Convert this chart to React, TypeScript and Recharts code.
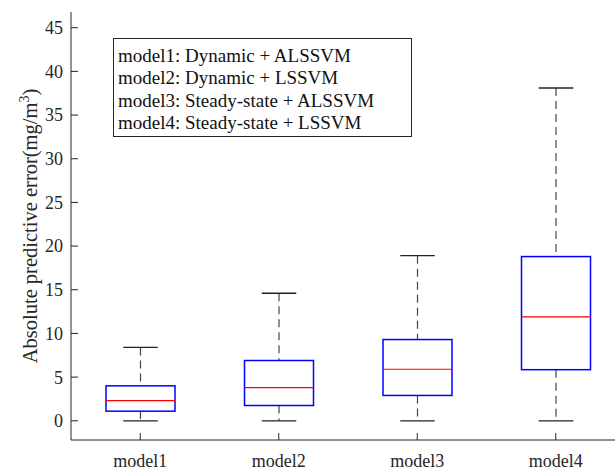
import React from "react";
import { ComposedChart, Bar, XAxis, YAxis } from "recharts";

const models = ["model1", "model2", "model3", "model4"];
const mins = [0, 0, 0, 0];
const q1s = [1.1, 1.75, 2.9, 5.85];
const medians = [2.3, 3.8, 5.9, 11.9];
const q3s = [4.0, 6.9, 9.3, 18.8];
const maxs = [8.4, 14.6, 18.9, 38.1];

const yTicks = [0, 5, 10, 15, 20, 25, 30, 35, 40, 45];

const legendLabels = [
  "model1: Dynamic + ALSSVM",
  "model2: Dynamic + LSSVM",
  "model3: Steady-state + ALSSVM",
  "model4: Steady-state + LSSVM",
];

const data = models.map((name, i) => ({
  name,
  range: [mins[i], maxs[i]],
  q1: q1s[i],
  median: medians[i],
  q3: q3s[i],
}));

const FONT = "'Liberation Serif', 'Times New Roman', serif";
const INK = "#262626";

// box drawn inside the [min, max] bar, other values mapped on the same pixel span
function BoxShape(props: any) {
  const { x, y, width, height, payload } = props;
  const [lo, hi] = payload.range;
  const py = (v: number) => y + (height * (hi - v)) / (hi - lo);
  const cx = x + width / 2;
  const capHalf = width / 4;
  return (
    <g>
      <line x1={cx} x2={cx} y1={py(hi)} y2={py(payload.q3)} stroke="#444" strokeWidth={1.2} strokeDasharray="8 5" />
      <line x1={cx} x2={cx} y1={py(payload.q1)} y2={py(lo)} stroke="#444" strokeWidth={1.2} strokeDasharray="8 5" />
      <line x1={cx - capHalf} x2={cx + capHalf} y1={py(hi)} y2={py(hi)} stroke="#222" strokeWidth={1.3} />
      <line x1={cx - capHalf} x2={cx + capHalf} y1={py(lo)} y2={py(lo)} stroke="#222" strokeWidth={1.3} />
      <rect
        x={x}
        y={py(payload.q3)}
        width={width}
        height={py(payload.q1) - py(payload.q3)}
        fill="none"
        stroke="#0000ff"
        strokeWidth={1.5}
      />
      <line x1={x} x2={x + width} y1={py(payload.median)} y2={py(payload.median)} stroke="#ff0000" strokeWidth={1.2} />
    </g>
  );
}

function YLabel(props: any) {
  const { viewBox } = props;
  const cy = viewBox.y + viewBox.height / 2;
  const tx = 37;
  return (
    <text
      x={tx}
      y={cy}
      transform={`rotate(-90, ${tx}, ${cy})`}
      textAnchor="middle"
      fontFamily={FONT}
      fontSize={20.5}
      fill={INK}
    >
      <tspan>Absolute predictive error(mg/m</tspan>
      <tspan dy={-8} fontSize={14}>3</tspan>
      <tspan dy={8}>)</tspan>
    </text>
  );
}

export default function App() {
  return (
    <div
      style={{
        position: "fixed",
        left: 0,
        top: 0,
        width: 615,
        height: 470,
        overflow: "hidden",
        background: "#fff",
        fontFamily: FONT,
      }}
    >
      <ComposedChart
        width={625}
        height={470}
        data={data}
        margin={{ top: 12, right: 0, bottom: 0, left: 0 }}
      >
        <XAxis
          dataKey="name"
          height={30}
          stroke={INK}
          tickSize={-7}
          tickMargin={21}
          tick={{ fontFamily: FONT, fontSize: 18, fill: INK }}
        />
        <XAxis
          xAxisId="top"
          dataKey="name"
          orientation="top"
          height={0}
          stroke={INK}
          tickSize={-7}
          tick={false}
        />
        <YAxis
          width={71}
          type="number"
          domain={[-2.2, 46.8]}
          ticks={yTicks}
          allowDataOverflow
          stroke={INK}
          tickSize={-7}
          tickMargin={15}
          tick={{ fontFamily: FONT, fontSize: 18, fill: INK }}
          label={<YLabel />}
        />
        <Bar dataKey="range" barSize={69} shape={<BoxShape />} isAnimationActive={false} />
      </ComposedChart>
      <div
        style={{
          position: "absolute",
          left: 113,
          top: 38,
          width: 299,
          height: 99,
          border: `1px solid ${INK}`,
          background: "#fff",
          fontFamily: FONT,
          fontSize: 19,
          lineHeight: "22.3px",
          color: "#111",
          padding: "6px 0 0 4px",
          boxSizing: "border-box",
          whiteSpace: "nowrap",
        }}
      >
        {legendLabels.map((l) => (
          <div key={l}>{l}</div>
        ))}
      </div>
    </div>
  );
}
